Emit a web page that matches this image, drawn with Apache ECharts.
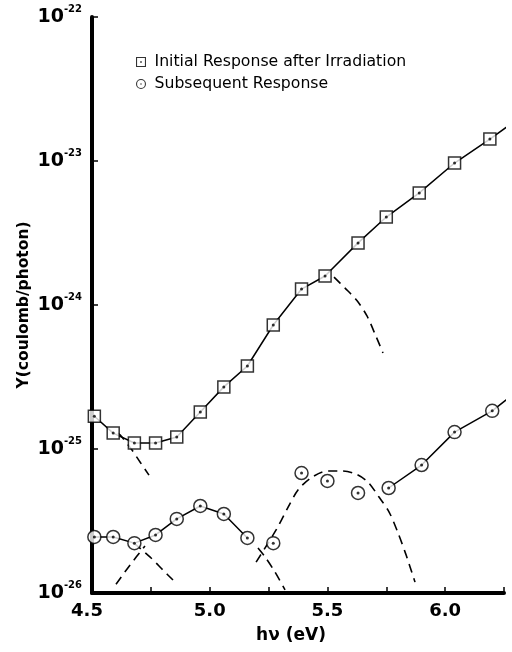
<!DOCTYPE html>
<html><head><meta charset="utf-8">
<script src="https://cdn.jsdelivr.net/npm/echarts@6/dist/echarts.min.js"></script>
<style>html,body{margin:0;padding:0;background:#fff}#c{width:512px;height:652px}</style>
</head><body><div id="c"></div>
<script>
// ---- data (Y in coulomb/photon, hv in eV) ----
const initX = [4.51, 4.59, 4.68, 4.77, 4.86, 4.96, 5.06, 5.16, 5.27, 5.39, 5.49, 5.63, 5.75, 5.89, 6.04, 6.19];
const initY = [1.69e-25, 1.29e-25, 1.10e-25, 1.10e-25, 1.21e-25, 1.81e-25, 2.70e-25, 3.77e-25, 7.26e-25, 1.29e-24, 1.59e-24, 2.70e-24, 4.08e-24, 6.0e-24, 9.68e-24, 1.42e-23];
const initEdgeX = [6.29];
const initEdgeY = [1.86e-23];

const subX = [4.51, 4.59, 4.68, 4.77, 4.86, 4.96, 5.06, 5.16, 5.27, 5.39, 5.50, 5.63, 5.76, 5.90, 6.04, 6.20];
const subY = [2.45e-26, 2.45e-26, 2.22e-26, 2.53e-26, 3.27e-26, 4.02e-26, 3.54e-26, 2.41e-26, 2.22e-26, 6.81e-26, 6.0e-26, 4.95e-26, 5.36e-26, 7.74e-26, 1.31e-25, 1.84e-25];
const subRuns = [[0, 7], [12, 15]];
const subEdgeX = [6.29];
const subEdgeY = [2.40e-25];

// dashed component curves
const dash1X = [4.61, 4.62, 4.67, 4.704, 4.742];
const dash1Y = [1.29e-25, 1.25e-25, 9.84e-26, 8.12e-26, 6.59e-26];
const dash2X = [4.678, 4.746, 4.802, 4.844];
const dash2Y = [2.22e-26, 1.78e-26, 1.44e-26, 1.23e-26];
const dash3X = [4.602, 4.661, 4.725];
const dash3Y = [1.15e-26, 1.56e-26, 2.12e-26];
const dash4X = [5.528, 5.575, 5.626, 5.668, 5.702, 5.736];
const dash4Y = [1.56e-24, 1.31e-24, 1.07e-24, 8.39e-25, 6.30e-25, 4.64e-25];
const dash5X = [5.197, 5.282, 5.333, 5.375, 5.430, 5.502, 5.562, 5.621, 5.672, 5.719, 5.762, 5.800, 5.834, 5.872];
const dash5Y = [1.64e-26, 2.74e-26, 3.95e-26, 5.19e-26, 6.30e-26, 7.04e-26, 7.04e-26, 6.70e-26, 5.90e-26, 4.64e-26, 3.65e-26, 2.61e-26, 1.84e-26, 1.19e-26];
const dash6X = [5.205, 5.235, 5.277, 5.320];
const dash6Y = [2.05e-26, 1.78e-26, 1.40e-26, 1.05e-26];

// axis
const xMin = 4.5, xMax = 6.25, xStep = 0.25;
const yMinExp = -26, yMaxExp = -22;
const seriesNames = ['Initial Response after Irradiation', 'Subsequent Response'];
const xName = 'hν (eV)';
const yName = 'Y(coulomb/photon)';

// ---- build ----
const UNIT = Math.pow(10, yMinExp);
const pts = (xs, ys) => xs.map((x, i) => [x, ys[i] / UNIT]);
const FONT = 'DejaVu Sans';

const lineBase = {
  type: 'line', symbol: 'none', showSymbol: false, clip: false, silent: true, z: 2,
  lineStyle: { color: '#000', width: 1.5 }, animation: false
};
const dashBase = Object.assign({}, lineBase, {
  smooth: 0.3, lineStyle: { color: '#000', width: 1.6, type: [9, 6] }
});

const series = [];
series.push(Object.assign({}, lineBase, { data: pts(initX, initY).concat(pts(initEdgeX, initEdgeY)) }));
subRuns.forEach((r, k) => {
  let d = pts(subX.slice(r[0], r[1] + 1), subY.slice(r[0], r[1] + 1));
  if (k === subRuns.length - 1) d = d.concat(pts(subEdgeX, subEdgeY));
  series.push(Object.assign({}, lineBase, { data: d }));
});
[[dash1X, dash1Y], [dash2X, dash2Y], [dash3X, dash3Y], [dash4X, dash4Y], [dash5X, dash5Y], [dash6X, dash6Y]]
  .forEach(([xs, ys]) => series.push(Object.assign({}, dashBase, { data: pts(xs, ys) })));

series.push({
  name: seriesNames[0], type: 'scatter', symbol: 'rect', symbolSize: 12, z: 3, animation: false,
  itemStyle: { color: '#fff', borderColor: '#000', borderWidth: 1.5 },
  data: pts(initX, initY)
});
series.push({
  name: seriesNames[1], type: 'scatter', symbol: 'circle', symbolSize: 13, z: 3, animation: false,
  itemStyle: { color: '#fff', borderColor: '#000', borderWidth: 1.5 },
  data: pts(subX, subY)
});
series.push({
  type: 'scatter', symbol: 'circle', symbolSize: 3, z: 4, silent: true, animation: false,
  itemStyle: { color: '#000' },
  data: pts(initX, initY).concat(pts(subX, subY))
});

const sqIcon = 'path://M0,0H12V12H0Z M1.3,1.3V10.7H10.7V1.3Z M5,5H7V7H5Z';
const ciIcon = 'path://M6,0A6,6,0,1,1,6,12A6,6,0,1,1,6,0Z M6,1.3A4.7,4.7,0,1,0,6,10.7A4.7,4.7,0,1,0,6,1.3Z M5.1,6A0.9,0.9,0,1,1,6.9,6A0.9,0.9,0,1,1,5.1,6Z';

const chart = echarts.init(document.getElementById('c'), null, { renderer: 'canvas' });
chart.setOption({
  backgroundColor: '#fff',
  animation: false,
  grid: { left: 92, right: 8, top: 17, bottom: 59, outerBoundsMode: 'none', containLabel: false },
  legend: {
    orient: 'vertical', left: 136, top: 54, padding: 0, itemGap: 6,
    itemWidth: 17, itemHeight: 10, selectedMode: false,
    itemStyle: { color: '#000', borderWidth: 0 },
    textStyle: { fontFamily: FONT, fontSize: 15.7, color: '#000', lineHeight: 16 },
    data: [
      { name: seriesNames[0], icon: sqIcon, itemStyle: { color: '#000', borderWidth: 0 } },
      { name: seriesNames[1], icon: ciIcon, itemStyle: { color: '#000', borderWidth: 0 } }
    ]
  },
  xAxis: {
    type: 'value', min: xMin, max: xMax, interval: xStep,
    name: xName, nameLocation: 'middle', nameGap: 34, nameMoveOverlap: false,
    nameTextStyle: { fontFamily: FONT, fontSize: 17, fontWeight: 'bold', color: '#000', padding: [0, 14, 0, 0] },
    axisLine: { show: true, onZero: false, lineStyle: { color: '#000', width: 4 } },
    axisTick: { show: true, inside: true, length: 6, lineStyle: { color: '#000', width: 1.5 } },
    splitLine: { show: false },
    axisLabel: {
      margin: 9, color: '#000', fontFamily: FONT, fontSize: 18, fontWeight: 'bold',
      showMinLabel: true, showMaxLabel: true,
      formatter: v => {
        if (Math.abs(v * 2 - Math.round(v * 2)) > 1e-6) return '';
        return v === xMin ? '{m|' + v.toFixed(1) + '}' : v.toFixed(1);
      },
      rich: { m: { fontFamily: FONT, fontSize: 18, fontWeight: 'bold', color: '#000', padding: [0, 10, 0, 0] } }
    }
  },
  yAxis: {
    type: 'log', logBase: 10, min: 1, max: Math.pow(10, yMaxExp - yMinExp),
    name: yName, nameLocation: 'middle', nameGap: 60, nameRotate: 90, nameMoveOverlap: false,
    nameTextStyle: { fontFamily: FONT, fontSize: 15.5, fontWeight: 'bold', color: '#000' },
    axisLine: { show: true, lineStyle: { color: '#000', width: 4 } },
    axisTick: { show: true, inside: true, length: 6, lineStyle: { color: '#000', width: 1.5 } },
    splitLine: { show: false },
    axisLabel: {
      margin: 10, color: '#000',
      formatter: v => '{b|10}{s|-' + Math.abs(Math.round(Math.log10(v)) + yMinExp) + '}',
      rich: {
        b: { fontFamily: FONT, fontSize: 19, fontWeight: 'bold', color: '#000', lineHeight: 26 },
        s: { fontFamily: FONT, fontSize: 10, fontWeight: 'bold', color: '#000', verticalAlign: 'top', lineHeight: 10, padding: [0, 0, 0, 0] }
      }
    }
  },
  series: series
});
</script>
</body></html>
